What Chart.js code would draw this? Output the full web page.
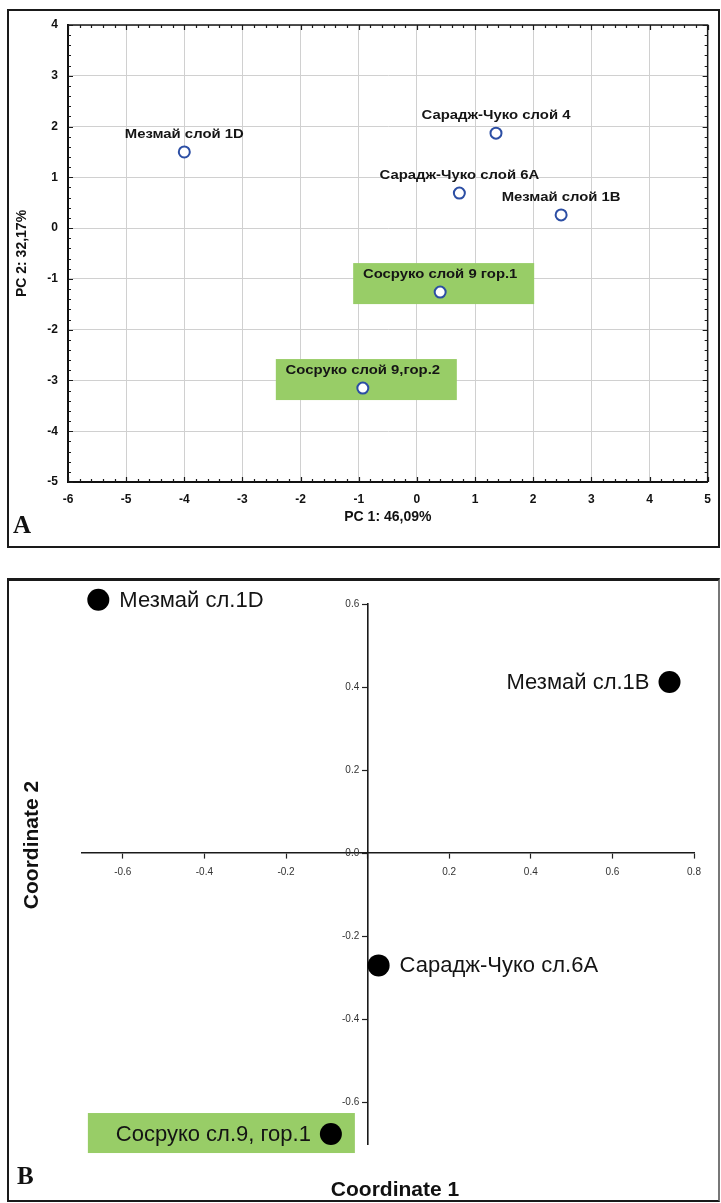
<!DOCTYPE html>
<html><head><meta charset="utf-8">
<script src="https://cdn.jsdelivr.net/npm/chart.js@4.4.1/dist/chart.umd.min.js"></script>
<style>
html,body{margin:0;padding:0;background:#fff;}
body{width:721px;height:1203px;position:relative;overflow:hidden;font-family:"Liberation Sans",Arial,sans-serif;}
.frame{position:absolute;box-sizing:border-box;pointer-events:none;z-index:5;}
#frameA{left:7px;top:9px;width:713px;height:539px;border:2px solid #1a1a1a;}
#frameB{left:7px;top:578px;width:713px;height:624px;border:2px solid #1a1a1a;border-top-width:3px;border-right-color:#777;}
.wrap{position:absolute;left:0;width:721px;}
#wrapA{top:0;height:548px;}
#wrapB{top:560px;height:643px;}
.panel{position:absolute;font-family:"Liberation Serif","Times New Roman",serif;font-weight:bold;font-size:25px;line-height:1;color:#111;z-index:6;}
.axt{position:absolute;font-family:"Liberation Sans",Arial,sans-serif;font-weight:bold;font-size:21px;line-height:1;white-space:nowrap;color:#111;z-index:6;}
</style></head>
<body>
<div class="wrap" id="wrapA"><canvas id="cA"></canvas></div>
<div class="wrap" id="wrapB"><canvas id="cB"></canvas></div>
<div class="frame" id="frameA"></div>
<div class="frame" id="frameB"></div>
<div class="panel" style="left:13px;top:512px;">A</div>
<div class="panel" style="left:17px;top:1163px;">B</div>
<div class="axt" style="left:395px;top:1188px;transform:translate(-50%,-50%);">Coordinate 1</div>
<div class="axt" style="left:30px;top:845px;transform:translate(-50%,-50%) rotate(-90deg);">Coordinate 2</div>
<script>
// ---------- Panel A data (PCA) ----------
const pcaNames = ['Мезмай слой 1D', 'Сарадж-Чуко слой 4', 'Сарадж-Чуко слой 6А', 'Мезмай слой 1B', 'Сосруко слой 9 гор.1', 'Сосруко слой 9,гор.2'];
const pc1 = [-4.0, 1.36, 0.73, 2.48, 0.40, -0.93];
const pc2 = [1.50, 1.87, 0.69, 0.26, -1.26, -3.15];
const pcaHighlighted = ['Сосруко слой 9 гор.1', 'Сосруко слой 9,гор.2'];
const pcaXTitle = 'PC 1: 46,09%';
const pcaYTitle = 'PC 2: 32,17%';

// ---------- Panel B data (MDS) ----------
const mdsNames = ['Мезмай сл.1D', 'Мезмай сл.1B', 'Сарадж-Чуко сл.6А', 'Сосруко сл.9, гор.1'];
const coord1 = [-0.66, 0.74, 0.027, -0.09];
const coord2 = [0.61, 0.412, -0.27, -0.676];
const mdsHighlighted = ['Сосруко сл.9, гор.1'];

// ---------- styling ----------
const SANS = '"Liberation Sans", Arial, sans-serif';
const GREEN = '#98cd67';
const mdsLabelSide = {'Мезмай сл.1D': 'right', 'Мезмай сл.1B': 'left', 'Сарадж-Чуко сл.6А': 'right', 'Сосруко сл.9, гор.1': 'left'};

function stretchedText(ctx, text, cx, cy, font, sx, color) {
  ctx.save();
  ctx.font = font; ctx.fillStyle = color;
  ctx.textAlign = 'center'; ctx.textBaseline = 'middle';
  ctx.translate(cx, cy); ctx.scale(sx, 1);
  ctx.fillText(text, 0, 0);
  ctx.restore();
}

const pcaDecor = {
  id: 'pcaDecor',
  beforeDatasetsDraw(chart) {
    const {ctx, scales: {x, y}} = chart;
    ctx.save();
    ctx.fillStyle = GREEN;
    pcaNames.forEach((n, i) => {
      if (!pcaHighlighted.includes(n)) return;
      const px = x.getPixelForValue(pc1[i]), py = y.getPixelForValue(pc2[i]);
      ctx.fillRect(px - 87, py - 29, 181, 41);
    });
    ctx.restore();
  },
  afterDatasetsDraw(chart) {
    const {ctx, scales: {x, y}} = chart;
    pcaNames.forEach((n, i) => {
      const px = x.getPixelForValue(pc1[i]), py = y.getPixelForValue(pc2[i]);
      stretchedText(ctx, n, px, py - 17, 'bold 12px ' + SANS, 1.24, '#151515');
    });
  },
  afterDraw(chart) {
    const {ctx, chartArea: a, scales: {x, y}} = chart;
    ctx.save();
    ctx.strokeStyle = '#1a1a1a';
    ctx.lineWidth = 1.5;
    ctx.beginPath();
    ctx.moveTo(a.left, a.top); ctx.lineTo(a.right, a.top); ctx.lineTo(a.right, a.bottom);
    ctx.stroke();
    ctx.lineWidth = 1.2;
    ctx.beginPath();
    for (let k = 0; k <= 55; k++) {
      const v = x.min + k * 0.2;
      const px = Math.round(x.getPixelForValue(v)) + 0.5;
      const L = (k % 5 === 0) ? 5 : 3;
      ctx.moveTo(px, a.bottom); ctx.lineTo(px, a.bottom - L);
      ctx.moveTo(px, a.top); ctx.lineTo(px, a.top + L);
    }
    for (let k = 0; k <= 45; k++) {
      const v = y.min + k * 0.2;
      const py = Math.round(y.getPixelForValue(v)) + 0.5;
      const L = (k % 5 === 0) ? 5 : 3;
      ctx.moveTo(a.left, py); ctx.lineTo(a.left + L, py);
      ctx.moveTo(a.right, py); ctx.lineTo(a.right - L, py);
    }
    ctx.stroke();
    ctx.restore();
  }
};

const tickFontA = {family: SANS, size: 12, weight: 'bold'};
const titleFontA = {family: SANS, size: 14, weight: 'bold'};

new Chart(document.getElementById('cA'), {
  type: 'scatter',
  data: {datasets: [{
    data: pc1.map((v, i) => ({x: v, y: pc2[i]})),
    pointRadius: 5.5, pointBorderWidth: 2,
    pointBorderColor: '#2c4ea4', pointBackgroundColor: '#ffffff',
    clip: false
  }]},
  options: {
    responsive: true, maintainAspectRatio: false, animation: false, devicePixelRatio: 1,
    layout: {padding: {top: 25, right: 7, left: 0, bottom: 0}},
    plugins: {legend: {display: false}, tooltip: {enabled: false}},
    scales: {
      x: {
        type: 'linear', min: -6, max: 5,
        ticks: {stepSize: 1, font: tickFontA, color: '#111', padding: 10, callback: v => String(v)},
        grid: {color: '#d0d0d0', lineWidth: 1, drawTicks: false},
        border: {color: '#111', width: 2},
        title: {display: true, text: pcaXTitle, font: titleFontA, color: '#111', padding: {top: 0, bottom: 22}},
        afterFit(s) { s.height = 66; }
      },
      y: {
        type: 'linear', min: -5, max: 4,
        ticks: {stepSize: 1, font: tickFontA, color: '#111', padding: 10, callback: v => String(v)},
        grid: {color: '#d0d0d0', lineWidth: 1, drawTicks: false},
        border: {color: '#111', width: 2},
        title: {display: true, text: pcaYTitle, font: titleFontA, color: '#111', padding: {top: 14, bottom: 0}},
        afterFit(s) { s.width = 68; }
      }
    }
  },
  plugins: [pcaDecor]
});

const mdsDecor = {
  id: 'mdsDecor',
  beforeDatasetsDraw(chart) {
    const {ctx, scales: {x, y}} = chart;
    ctx.save();
    ctx.fillStyle = GREEN;
    mdsNames.forEach((n, i) => {
      if (!mdsHighlighted.includes(n)) return;
      const px = x.getPixelForValue(coord1[i]), py = y.getPixelForValue(coord2[i]);
      ctx.fillRect(px - 243, py - 21, 267, 40);
    });
    ctx.restore();
  },
  afterDatasetsDraw(chart) {
    const {ctx, scales: {x, y}} = chart;
    ctx.save();
    ctx.font = '22px ' + SANS;
    ctx.fillStyle = '#141414';
    ctx.textBaseline = 'middle';
    mdsNames.forEach((n, i) => {
      const px = x.getPixelForValue(coord1[i]), py = y.getPixelForValue(coord2[i]);
      if (mdsLabelSide[n] === 'left') { ctx.textAlign = 'right'; ctx.fillText(n, px - 20, py + 1); }
      else { ctx.textAlign = 'left'; ctx.fillText(n, px + 21, py + 1); }
    });
    ctx.restore();
  }
};

const tickFontB = {family: SANS, size: 10};
const yGap = '   '; // space between y tick label and its tick mark

new Chart(document.getElementById('cB'), {
  type: 'scatter',
  data: {datasets: [{
    data: coord1.map((v, i) => ({x: v, y: coord2[i]})),
    pointRadius: 11, pointBorderWidth: 0,
    pointBackgroundColor: '#000000', pointBorderColor: '#000000',
    clip: false
  }]},
  options: {
    responsive: true, maintainAspectRatio: false, animation: false, devicePixelRatio: 1,
    layout: {padding: {top: 44, right: 27, left: 82, bottom: 59}},
    plugins: {legend: {display: false}, tooltip: {enabled: false}},
    scales: {
      x: {
        type: 'linear', min: -0.7, max: 0.8, position: {y: 0},
        ticks: {stepSize: 0.2, includeBounds: false, font: tickFontB, color: '#333', padding: 8,
          callback: v => (Math.abs(v) < 1e-9 ? '' : v.toFixed(1))},
        grid: {drawOnChartArea: false, drawTicks: true, tickLength: 5, tickColor: '#222', tickWidth: 1.2},
        border: {color: '#1a1a1a', width: 1.6}
      },
      y: {
        type: 'linear', min: -0.7, max: 0.6, position: {x: 0},
        ticks: {stepSize: 0.2, includeBounds: false, font: tickFontB, color: '#333', padding: 8,
          callback: v => (Math.abs(v) < 1e-9 ? '0.0' : v.toFixed(1)) + yGap},
        grid: {drawOnChartArea: false, drawTicks: true, tickLength: 5, tickColor: '#222', tickWidth: 1.2},
        border: {color: '#1a1a1a', width: 1.6}
      }
    }
  },
  plugins: [mdsDecor]
});
</script>
</body></html>
